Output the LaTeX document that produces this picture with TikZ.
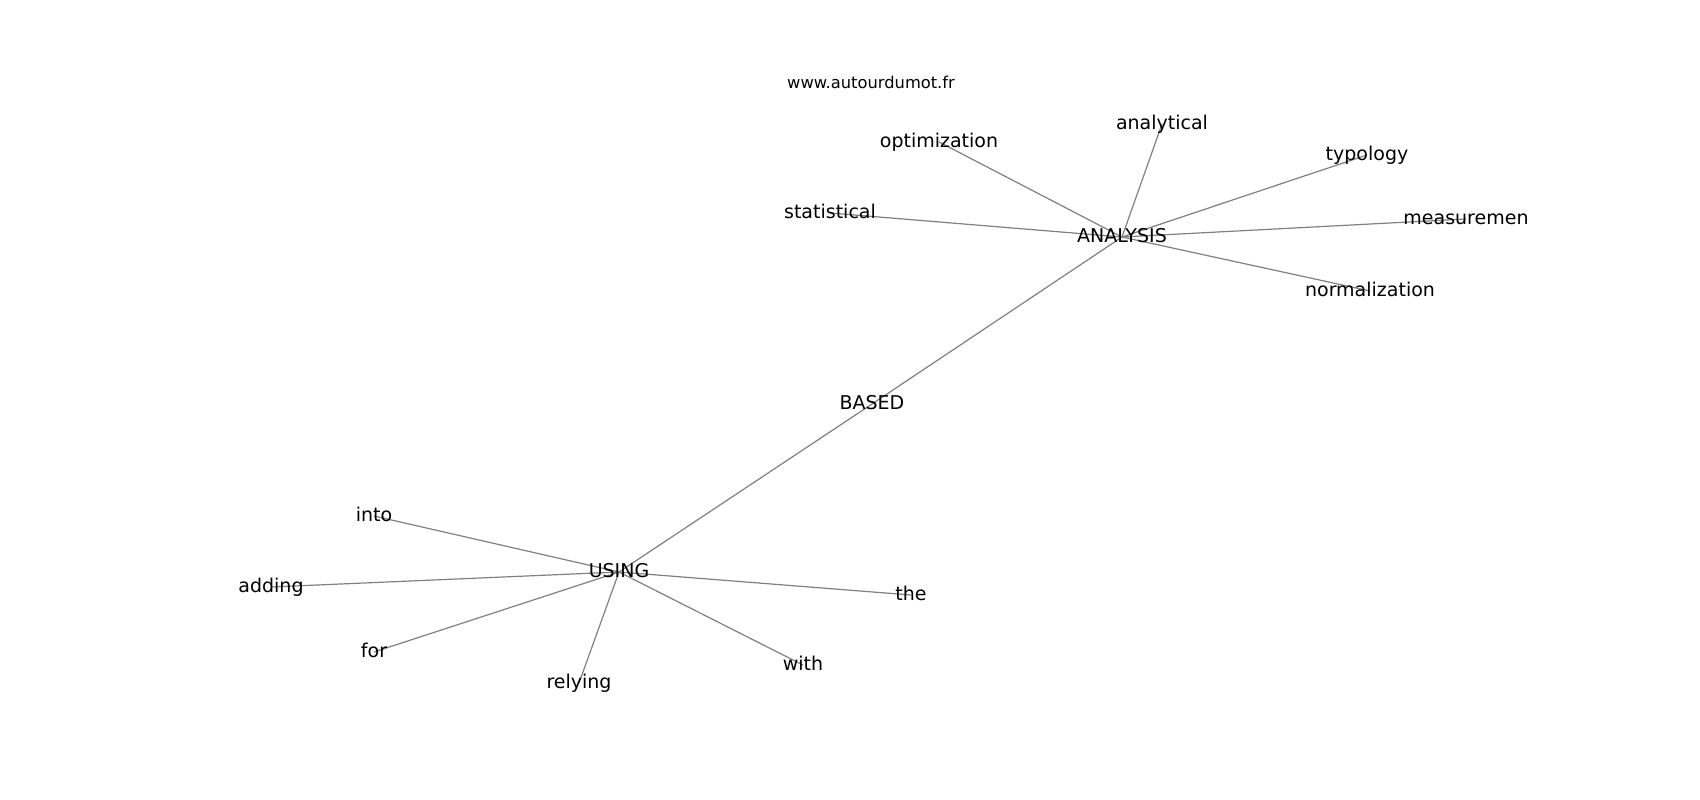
\documentclass[tikz,border=0pt]{standalone}
\usepackage{fontspec}
\setmainfont{DejaVu Sans}
\usetikzlibrary{backgrounds}
\tikzset{
  lbl/.style={inner sep=0pt, outer sep=0pt, text height=1.2em, text depth=0.16em, anchor=center, font=\fontsize{19}{23}\selectfont, text=black},
  wm/.style={lbl, font=\fontsize{16.3}{20}\selectfont},
  edge/.style={draw=gray, line width=1.2pt}
}
\begin{document}
\begin{tikzpicture}[x=1pt,y=-1pt]
\useasboundingbox (0,0) rectangle (1700,800);
\node[wm] (www) at (871,83) {www.autourdumot.fr};
\node[lbl] (analysis) at (1122,237) {ANALYSIS};
\node[lbl] (optimization) at (939,142) {optimization};
\node[lbl] (analytical) at (1162,124) {analytical};
\node[lbl] (typology) at (1367,155) {typology};
\node[lbl] (statistical) at (830,213) {statistical};
\node[lbl] (measuremen) at (1466,219) {measuremen};
\node[lbl] (normalization) at (1370,291) {normalization};
\node[lbl] (based) at (872,404) {BASED};
\node[lbl] (using) at (619,572) {USING};
\node[lbl] (into) at (374,516) {into};
\node[lbl] (adding) at (271,587) {adding};
\node[lbl] (for) at (374,652) {for};
\node[lbl] (relying) at (579,683) {relying};
\node[lbl] (the) at (911,595) {the};
\node[lbl] (with) at (803,665) {with};
\begin{pgfonlayer}{background}
\fill[white] (0,0) rectangle (1700,800);
\foreach \t in {optimization,analytical,typology,statistical,measuremen,normalization,based}
  \draw[edge] (analysis.center) -- (\t.center);
\draw[edge] (based.center) -- (using.center);
\foreach \t in {into,adding,for,relying,the,with}
  \draw[edge] (using.center) -- (\t.center);
\end{pgfonlayer}
\end{tikzpicture}
\end{document}
